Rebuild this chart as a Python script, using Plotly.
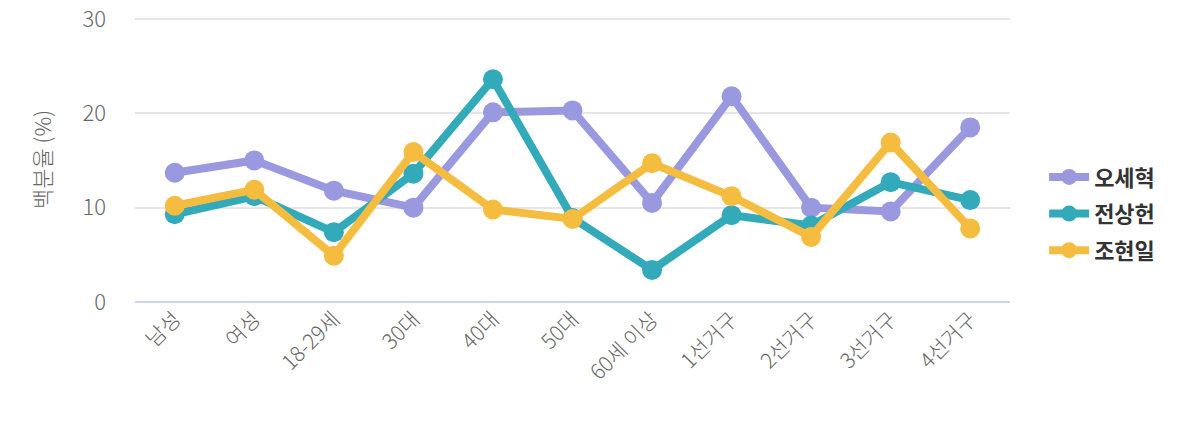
import plotly.graph_objects as go

categories = ["남성", "여성", "18-29세", "30대", "40대", "50대", "60세 이상", "1선거구", "2선거구", "3선거구", "4선거구"]
oh = [13.7, 15.0, 11.8, 10.0, 20.1, 20.3, 10.5, 21.8, 10.0, 9.6, 18.5]
jeon = [9.3, 11.2, 7.4, 13.6, 23.6, 8.9, 3.4, 9.2, 8.1, 12.7, 10.8]
jo = [10.2, 11.9, 4.9, 15.9, 9.8, 8.8, 14.7, 11.2, 6.9, 16.9, 7.8]

names = ["오세혁", "전상헌", "조현일"]
colors = ["#9a98de", "#32aab9", "#f5bd40"]
series = [oh, jeon, jo]

FONT = "Noto Sans CJK KR"
fig = go.Figure()
for n, c, s in zip(names, colors, series):
    fig.add_trace(go.Scatter(
        x=categories, y=s, name=n, legendgroup=n, mode="lines+markers",
        line=dict(color=c, width=8),
        marker=dict(color=c, size=20),
    ))

fig.update_layout(
    width=1200, height=440,
    margin=dict(l=135, r=190, t=17, b=138),
    plot_bgcolor="white", paper_bgcolor="white",
    font=dict(family=FONT, color="#666666", size=18, weight=300),
    legend=dict(x=1.039, y=0.31, yanchor="middle", xanchor="left",
                font=dict(size=22, color="#333333", family=FONT, weight="bold"),
                itemwidth=40, tracegroupgap=5),
    showlegend=True,
)
fig.update_xaxes(
    type="category", range=[-0.5, len(categories) - 0.5], automargin=False,
    tickangle=-45, showgrid=False, showline=False, zeroline=False,
    tickfont=dict(size=21, color="#666666", weight=300), ticks="",
)
fig.update_yaxes(
    range=[0, 30.2], tickvals=[0, 10, 20, 30], showgrid=True, gridcolor="#e6e6e6",
    gridwidth=1.5, zeroline=True, zerolinecolor="#ccd6eb", zerolinewidth=1.5,
    automargin=False, ticklabeloverflow="allow",
    tickfont=dict(size=22, color="#666666", weight=300), ticklabelstandoff=28,
    title=dict(text="백분율 (%)", font=dict(size=22, color="#666666", weight=300), standoff=24),
)
fig.write_html("out.html", post_script="document.body.style.margin='0';",
               config={"displayModeBar": False})
